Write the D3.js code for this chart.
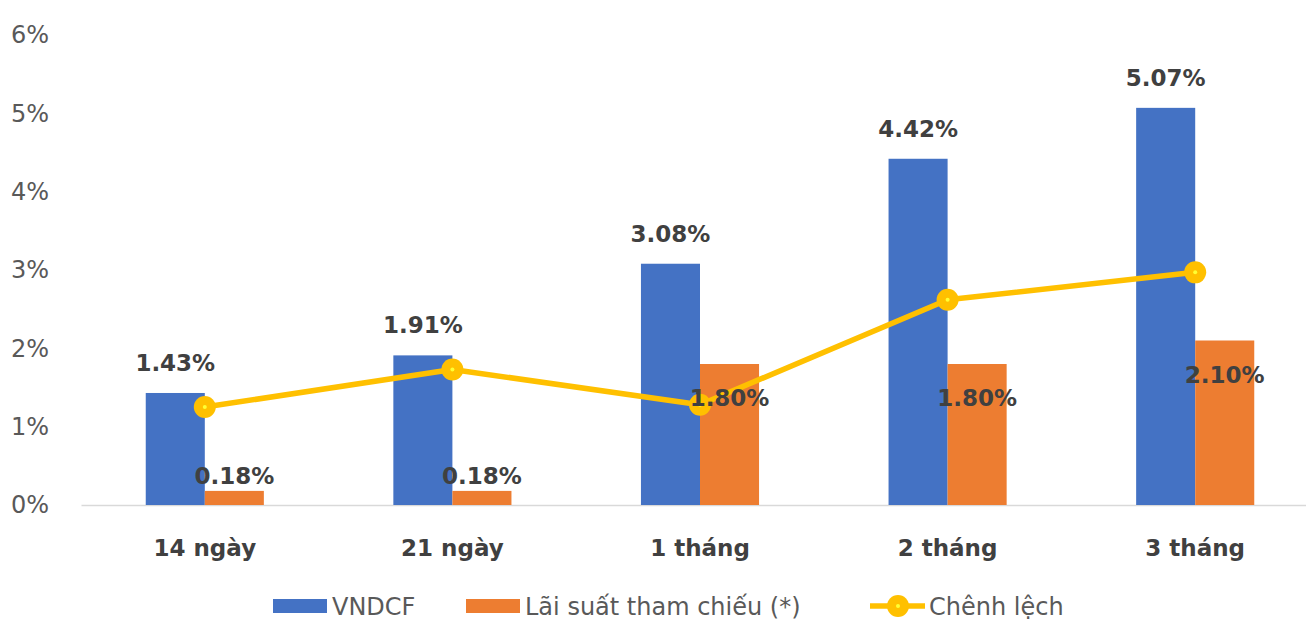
<!DOCTYPE html>
<html><head><meta charset="utf-8">
<script src="https://cdn.jsdelivr.net/npm/d3@7/dist/d3.min.js"></script>
<style>
html,body{margin:0;padding:0;background:#fff;}
svg text{font-family:"DejaVu Sans", sans-serif;}
</style></head>
<body><svg id="c" width="1306" height="623"></svg>
<script>
const categories = ["14 ngày","21 ngày","1 tháng","2 tháng","3 tháng"];
const vndcf = [1.43, 1.91, 3.08, 4.42, 5.07];
const refRate = [0.18, 0.18, 1.80, 1.80, 2.10];
const spread = [1.25, 1.73, 1.28, 2.62, 2.97];
const yTicks = [0,1,2,3,4,5,6];
const seriesNames = ["VNDCF","Lãi suất tham chiếu (*)","Chênh lệch"];
const colors = {blue:"#4472C4", orange:"#ED7D31", line:"#FFC000"};

const svg = d3.select("#c");
const x = d3.scaleBand().domain(categories).range([81,1319]).paddingInner(0.523).paddingOuter(0.2615);
const sub = d3.scaleBand().domain([0,1]).range([0,x.bandwidth()]);
const y = d3.scaleLinear().domain([0,6]).range([505,35]);

// y tick labels
const ya = svg.append("g").attr("transform","translate(49,0)")
  .call(d3.axisLeft(y).tickValues(yTicks).tickSize(0).tickPadding(0).tickFormat(d=>d+"%"));
ya.select(".domain").remove();
ya.selectAll("text").attr("fill","#595959").attr("font-size",24).style("font-family","'DejaVu Sans', sans-serif");

// x axis
const xa = svg.append("g").attr("transform","translate(0,505)")
  .call(d3.axisBottom(x).tickSize(0).tickPadding(0));
xa.select(".domain").attr("stroke","#D9D9D9").attr("stroke-width",1.5);
xa.selectAll("text").attr("y",51).attr("dy",0).attr("fill","#404040").attr("font-size",23).attr("font-weight","bold").style("font-family","'DejaVu Sans', sans-serif");

// bars
const g = svg.append("g");
g.selectAll(".b1").data(vndcf).join("rect")
  .attr("x",(d,i)=>x(categories[i])+sub(0)).attr("width",sub.bandwidth())
  .attr("y",d=>y(d)).attr("height",d=>y(0)-y(d)).attr("fill",colors.blue);
g.selectAll(".b2").data(refRate).join("rect")
  .attr("x",(d,i)=>x(categories[i])+sub(1)).attr("width",sub.bandwidth())
  .attr("y",d=>y(d)).attr("height",d=>y(0)-y(d)).attr("fill",colors.orange);

// line
const cx = i => x(categories[i]) + x.bandwidth()/2;
const line = d3.line().x((d,i)=>cx(i)).y(d=>y(d));
svg.append("path").datum(spread).attr("d",line).attr("fill","none")
  .attr("stroke",colors.line).attr("stroke-width",5.5).attr("stroke-linejoin","round");
svg.selectAll(".m").data(spread).join("circle")
  .attr("cx",(d,i)=>cx(i)).attr("cy",d=>y(d)).attr("r",11).attr("fill",colors.line);
svg.selectAll(".m2").data(spread).join("circle")
  .attr("cx",(d,i)=>cx(i)).attr("cy",d=>y(d)).attr("r",2).attr("fill","#FFFF33");

// labels
const lab = svg.append("g").attr("font-size",23).attr("font-weight","bold").attr("fill","#404040").attr("text-anchor","middle");
lab.selectAll(".l1").data(vndcf).join("text")
  .attr("x",(d,i)=>x(categories[i])+sub(0)+sub.bandwidth()/2)
  .attr("y",d=>y(d)-22).text(d=>d.toFixed(2)+"%");
lab.selectAll(".l2").data(refRate).join("text")
  .attr("x",(d,i)=>x(categories[i])+sub(1)+sub.bandwidth()/2)
  .attr("y",d=> (y(0)-y(d))>60 ? y(d)+42 : y(d)-7).text(d=>d.toFixed(2)+"%");

// legend
const lg = svg.append("g").attr("font-size",24).attr("fill","#595959");
const ly = 606;
lg.append("rect").attr("x",273).attr("y",ly-7).attr("width",54).attr("height",14).attr("fill",colors.blue);
lg.append("text").attr("x",332).attr("y",ly).attr("dy","0.36em").text(seriesNames[0]);
lg.append("rect").attr("x",466).attr("y",ly-7).attr("width",54).attr("height",14).attr("fill",colors.orange);
lg.append("text").attr("x",525).attr("y",ly).attr("dy","0.36em").text(seriesNames[1]);
lg.append("line").attr("x1",870).attr("x2",925).attr("y1",ly).attr("y2",ly).attr("stroke",colors.line).attr("stroke-width",5.5);
lg.append("circle").attr("cx",898).attr("cy",ly).attr("r",11).attr("fill",colors.line);
lg.append("circle").attr("cx",898).attr("cy",ly).attr("r",2).attr("fill","#FFFF33");
lg.append("text").attr("x",929).attr("y",ly).attr("dy","0.36em").text(seriesNames[2]);
</script></body></html>
